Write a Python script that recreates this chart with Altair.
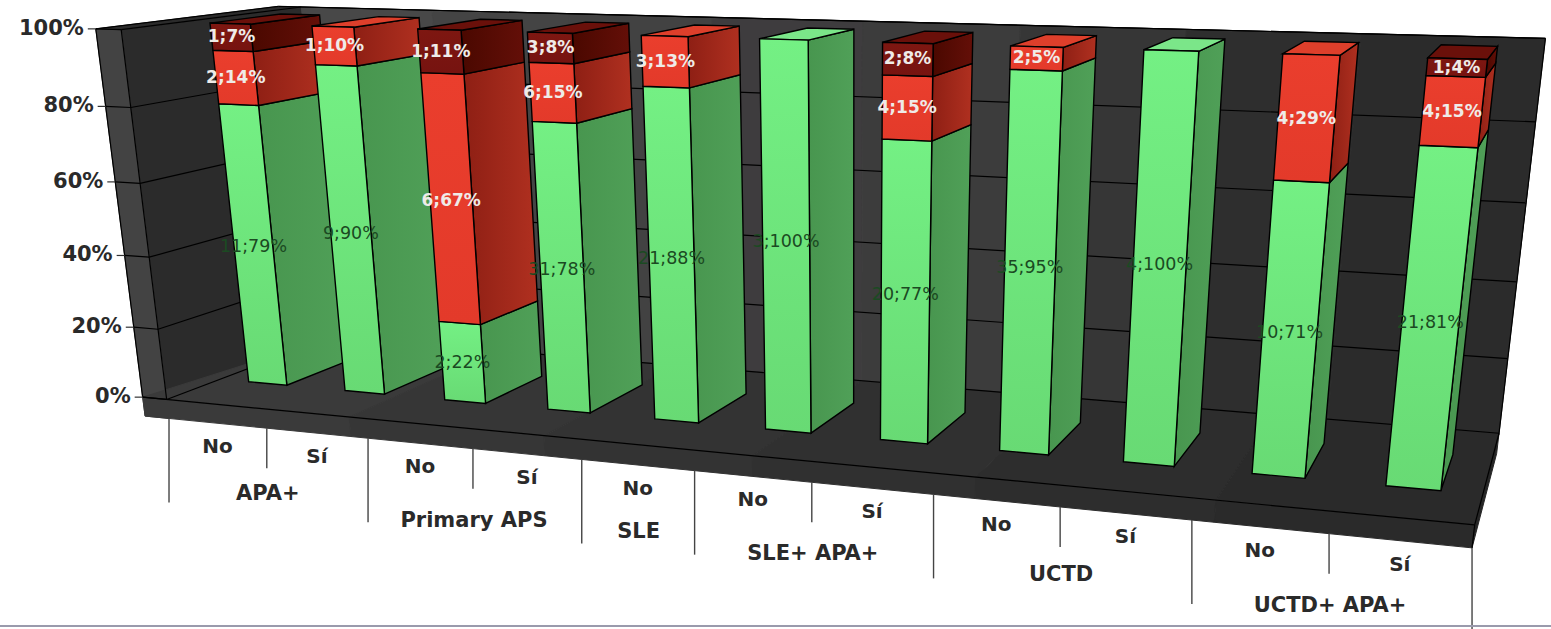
import altair as alt
import numpy as np

# Chart content
GROUPS = ["APA+", "Primary APS", "SLE", "SLE+ APA+", "UCTD", "UCTD+ APA+"]
GROUP_SPANS = [2, 2, 1, 2, 2, 2]
GROUP_DROP = [66, 72, 67, 72, 68, 72]
ANSWERS = ["No", "Sí", "No", "Sí", "No", "No", "Sí", "No", "Sí", "No", "Sí"]
SERIES_A = [11, 9, 2, 31, 21, 3, 20, 35, 4, 10, 21]
SERIES_B = [2, 1, 6, 6, 3, 0, 4, 2, 0, 4, 4]
SERIES_C = [1, 0, 1, 3, 0, 0, 2, 0, 0, 0, 1]
PERCENT_TICKS = [0, 20, 40, 60, 80, 100]

WIDTH, HEIGHT = 1551, 629

# Box geometry in chart units: x in categories, y in percent, z in bar depths
BAR_LO, BAR_HI = 0.3, 0.7
Z_FRONT, Z_BACK = -0.75, 1.75
WALL = 0.25
SLAB = -5.5

# Camera calibration: (x, y, z) -> (u, v)
def bar_points(i, rows):
    pts = []
    for y, fl, fr, br in rows:
        if fl:
            pts.append(((i + BAR_LO, y, 0), fl))
        if fr:
            pts.append(((i + BAR_HI, y, 0), fr))
        if br:
            pts.append(((i + BAR_HI, y, 1), br))
    return pts

CALIBRATION = (
    bar_points(0, [(0, (247, 382), (285, 384), None), (100, (212, 23), (252, 24), (317, 15)), (79, (220, 103), (259, 104), (318, 94))])
    + bar_points(1, [(0, (343, 390), (383, 393), None), (100, (313, 27), (354, 26), (417, 18)), (90, (317, 63), (357, 65), (418, 57))])
    + bar_points(2, [(0, (443, 399), (484, 403), None), (100, (419, 28), (463, 30), None), (22, (438, 323), (480, 325), (537, 303))])
    + bar_points(3, [(0, (547, 410), (590, 413), None), (100, (529, 32), (574, 33), (628, 25)), (77.5, (533, 121), (577, 123), (630, 111))])
    + bar_points(4, [(0, (655, 418), (698, 422), None), (100, (642, 35), (688, 36), (738, 27)), (87.5, (644, 86), (690, 88), (740, 76))])
    + bar_points(5, [(0, (766, 429), (810, 433), (852, 407)), (100, (761, 38), (809, 39), (853, 31))])
    + bar_points(6, [(0, (880, 440), (927, 444), (963, 417)), (100, (883, 42), (933, 43), (972, 33)), (77, (883, 139), (932, 141), (970, 127))])
    + bar_points(7, [(0, (1000, 450), (1049, 455), (1079, 423)), (100, (1012, 46), (1063, 47), (1097, 37))])
    + bar_points(8, [(0, (1124, 462), (1175, 467), (1200, 430)), (100, (1145, 50), (1199, 52), (1224, 42))])
    + bar_points(9, [(0, (1253, 473), (1305, 478), (1325, 423)), (100, (1283, 54), (1340, 56), (1358, 44)), (71, (1274, 180), (1329, 182), (1346, 168))])
    + bar_points(10, [(0, (1387, 487), (1441, 491), None), (100, (1426, 59), (1487, 60), (1497, 48)), (81, (1419, 146), (1478, 147), None)])
    + [
        ((0, 0, Z_FRONT), (166, 398)),
        ((0, 100, Z_FRONT), (124, 23)),
        ((11, 0, Z_FRONT), (1472, 523)),
        ((11, 0, Z_BACK), (1502, 437)),
        ((11, 100, Z_BACK), (1548, 33)),
        ((0, 100, Z_BACK), (300, 2)),
        ((0, 0, Z_BACK), (345, 337)),
    ]
    + [
        ((k, SLAB, Z_FRONT), (u, v))
        for k, (u, v) in enumerate([
            (169, 420), (267, 430), (369, 439), (473, 450), (581, 460), (694, 472),
            (812, 483), (935, 497), (1061, 508), (1193, 520), (1328, 535), (1472, 548),
        ])
    ]
)


def solve_camera(points):
    rows, rhs = [], []
    for (x, y, z), (u, v) in points:
        w = [x / 11, y / 100, z, 1]
        rows.append(w + [0, 0, 0, 0] + [-u * w[0], -u * w[1], -u * w[2]])
        rhs.append(u)
        rows.append([0, 0, 0, 0] + w + [-v * w[0], -v * w[1], -v * w[2]])
        rhs.append(v)
    sol, *_ = np.linalg.lstsq(np.array(rows, float), np.array(rhs, float), rcond=None)
    return np.append(sol, 1.0).reshape(3, 4)


CAMERA = solve_camera(CALIBRATION)


def project(x, y, z):
    h = CAMERA @ np.array([x / 11, y / 100, z, 1.0])
    return [round(float(h[0] / h[2]), 2), round(float(h[1] / h[2]), 2)]


def polygon(corners, fill="#000000"):
    ring = [project(*c) for c in corners]
    ring.append(ring[0])
    return {"type": "Feature", "geometry": {"type": "Polygon", "coordinates": [ring]}, "properties": {"fill": fill}}


def segment(a, b):
    return {"type": "Feature", "geometry": {"type": "LineString", "coordinates": [project(*a), project(*b)]}, "properties": {}}


# Canvas-sized outline keeps the geographic layers at one pixel per unit
frame = {
    "type": "Feature",
    "geometry": {"type": "Polygon", "coordinates": [[[0, 0], [WIDTH, 0], [WIDTH, HEIGHT], [0, HEIGHT], [0, 0]]]},
    "properties": {"fill": "transparent"},
}

# Walls and floor
shell = [
    frame,
    polygon([(0, 0, Z_FRONT), (0, 100, Z_FRONT), (0, 100, Z_BACK), (0, 0, Z_BACK)], "#2B2B2B"),
    polygon([(-WALL, SLAB, Z_FRONT), (-WALL, 100, Z_FRONT), (0, 100, Z_FRONT), (0, SLAB, Z_FRONT)], "#434343"),
    polygon([(-WALL, 100, Z_FRONT), (0, 100, Z_FRONT), (0, 100, Z_BACK), (-WALL, 100, Z_BACK)], "#2B2B2B"),
]
for k, shade in enumerate(["#484848", "#444444", "#424242", "#3E3C3E", "#3C3C3C", "#363636", "#2E2E2E", "#2B2B2B"]):
    x0, x1 = k * 11 / 8, (k + 1) * 11 / 8
    shell.append(polygon([(x0, 0, Z_BACK), (x0, 100, Z_BACK), (x1, 100, Z_BACK), (x1, 0, Z_BACK)], shade))
for k, shade in enumerate(["#3A3A3A", "#363636", "#333333", "#303030", "#2D2D2D", "#2A2A2A"]):
    x0, x1 = k * 11 / 6, (k + 1) * 11 / 6
    left = -WALL if k == 0 else x0
    shell.append(polygon([(left, 0, Z_FRONT), (x1, 0, Z_FRONT), (x1, 0, Z_BACK), (x0, 0, Z_BACK)], shade))
    shell.append(polygon([(left, SLAB, Z_FRONT), (x1, SLAB, Z_FRONT), (x1, 0, Z_FRONT), (left, 0, Z_FRONT)], shade))
shell.append(polygon([(11, SLAB, Z_FRONT), (11, 0, Z_FRONT), (11, 0, Z_BACK), (11, SLAB, Z_BACK)], "#262626"))

# Gridlines and outlines
lines = []
for tick in PERCENT_TICKS:
    lines.append(segment((-WALL, tick, Z_FRONT), (0, tick, Z_FRONT)))
    lines.append(segment((0, tick, Z_FRONT), (0, tick, Z_BACK)))
    lines.append(segment((0, tick, Z_BACK), (11, tick, Z_BACK)))
lines.append(segment((-WALL, 0, Z_FRONT), (11, 0, Z_FRONT)))
lines.append(segment((-WALL, 0, Z_FRONT), (-WALL, 100, Z_FRONT)))
lines.append(segment((0, 0, Z_FRONT), (0, 100, Z_FRONT)))
lines.append(segment((11, 0, Z_FRONT), (11, 0, Z_BACK)))
lines.append(segment((11, 0, Z_BACK), (11, 100, Z_BACK)))
lines.append(segment((11, SLAB, Z_FRONT), (11, 0, Z_FRONT)))
lines.append(segment((-WALL, 100, Z_FRONT), (-WALL, 100, Z_BACK)))
lines.append(segment((-WALL, 100, Z_BACK), (11, 100, Z_BACK)))

# Stacked bars: sides first, then caps, then fronts, so a bar hides its left neighbour's side
TOP_FILLS = ["#7BE689", "#DE3F2B", "#6A100A"]
sides = [[], [], []]
fronts = [[], [], []]
tops = []
dark_labels, light_labels = [], []
for i in range(len(ANSWERS)):
    counts = [SERIES_A[i], SERIES_B[i], SERIES_C[i]]
    total = sum(counts)
    lo = 0.0
    last = max(s for s, n in enumerate(counts) if n > 0)
    for s, n in enumerate(counts):
        if n == 0:
            continue
        hi = lo + 100 * n / total
        xa, xb = i + BAR_LO, i + BAR_HI
        sides[s].append(polygon([(xb, lo, 0), (xb, lo, 1), (xb, hi, 1), (xb, hi, 0)]))
        if s == last:
            tops.append(polygon([(xa, hi, 0), (xb, hi, 0), (xb, hi, 1), (xa, hi, 1)], TOP_FILLS[s]))
        fronts[s].append(polygon([(xa, lo, 0), (xb, lo, 0), (xb, hi, 0), (xa, hi, 0)]))
        u, v = project((xa + xb) / 2, (lo + hi) / 2, 0)
        pct = int(100 * n / total + 0.5)
        row = {"px": u, "py": v, "text": f"{n};{pct}%"}
        (dark_labels if s == 0 else light_labels).append(row)
        lo = hi

# Axis furniture
tick_rows = []
cat_rows, group_rows = [], []
edge = 0
boundaries = {0}
for span in GROUP_SPANS:
    edge += span
    boundaries.add(edge)
for k in range(len(ANSWERS) + 1):
    u, v = project(k, SLAB, Z_FRONT)
    tick_rows.append({"px": u, "py": v, "py2": min(v + (84 if k in boundaries else 40), HEIGHT)})
for k, answer in enumerate(ANSWERS):
    u, v = project(k + 0.5, SLAB, Z_FRONT)
    cat_rows.append({"px": u, "py": v + 24, "text": answer})
edge = 0
for name, span, drop in zip(GROUPS, GROUP_SPANS, GROUP_DROP):
    u, v = project(edge + span / 2, SLAB, Z_FRONT)
    group_rows.append({"px": u + 1, "py": v + drop, "text": name})
    edge += span

pct_rows, pct_ticks = [], []
for tick in PERCENT_TICKS:
    u, v = project(-WALL, tick, Z_FRONT)
    pct_rows.append({"px": u - 12, "py": v, "text": f"{tick}%"})
    pct_ticks.append({"px": u - 8, "px2": u, "py": v})

PROJ = dict(type="identity", scale=1, translate=[0, 0])
PX = alt.X("px:Q", scale=None, axis=None)
PY = alt.Y("py:Q", scale=None, axis=None)


def text_layer(rows, font_size, color, weight="normal", align="center"):
    return alt.Chart(alt.Data(values=rows)).mark_text(
        font="DejaVu Sans", fontSize=font_size, color=color, fontWeight=weight, align=align, baseline="middle"
    ).encode(x=PX, y=PY, text="text:N")


def ramp(start, end, vertical):
    return alt.LinearGradient(
        gradient="linear",
        stops=[alt.GradientStop(color=start, offset=0), alt.GradientStop(color=end, offset=1)],
        x1=0, y1=0, x2=0 if vertical else 1, y2=1 if vertical else 0,
    )


def face_layer(features, fill):
    return alt.Chart(alt.Data(values=features)).mark_geoshape(
        fill=fill, stroke="#000000", strokeWidth=1.4
    ).project(**PROJ)


shell_layer = alt.Chart(alt.Data(values=shell)).mark_geoshape(strokeWidth=1).encode(
    fill=alt.Fill("properties.fill:N", scale=None),
    stroke=alt.Stroke("properties.fill:N", scale=None),
).project(**PROJ)

line_layer = alt.Chart(alt.Data(values=lines)).mark_geoshape(
    filled=False, stroke="#000000", strokeWidth=1.2
).project(**PROJ)

top_layer = alt.Chart(alt.Data(values=tops)).mark_geoshape(stroke="#000000", strokeWidth=1.4).encode(
    fill=alt.Fill("properties.fill:N", scale=None)
).project(**PROJ)

tick_rules = alt.Chart(alt.Data(values=tick_rows)).mark_rule(color="#444444", strokeWidth=1.4).encode(
    x=PX, y=PY, y2=alt.Y2("py2:Q")
)
pct_rules = alt.Chart(alt.Data(values=pct_ticks)).mark_rule(color="#333333", strokeWidth=1.2).encode(
    x=PX, x2=alt.X2("px2:Q"), y=PY
)
baseline = alt.Chart(alt.Data(values=[{"a": 0}])).mark_rule(color="#9A9AAC", strokeWidth=2).encode(
    x=alt.value(0), x2=alt.value(WIDTH), y=alt.value(626)
)

chart = alt.layer(
    shell_layer,
    line_layer,
    face_layer(sides[0], ramp("#48964F", "#50A058", False)),
    face_layer(sides[1], ramp("#8E1F14", "#B03020", False)),
    face_layer(sides[2], ramp("#4A0800", "#640F08", False)),
    top_layer,
    face_layer(fronts[0], ramp("#74F084", "#68DA74", True)),
    face_layer(fronts[1], ramp("#EA3E2D", "#E33A2A", True)),
    face_layer(fronts[2], ramp("#7E1711", "#761310", True)),
    tick_rules,
    pct_rules,
    baseline,
    text_layer(dark_labels, 17.5, "#1B4A22"),
    text_layer(light_labels, 17, "#EFEBE8", weight="bold"),
    text_layer(cat_rows, 20, "#2A2A2A", weight="bold"),
    text_layer(group_rows, 21, "#2A2A2A", weight="bold"),
    text_layer(pct_rows, 21, "#2A2A2A", weight="bold", align="right"),
).properties(
    width=WIDTH, height=HEIGHT, padding=0, background="#FFFFFF",
    autosize=alt.AutoSizeParams(type="none"),
).configure_view(stroke=None)

chart.save("out.html", embed_options={"renderer": "svg", "actions": False})
